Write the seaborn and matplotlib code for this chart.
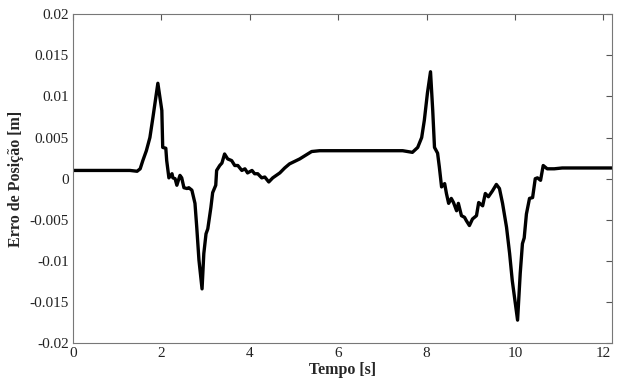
import matplotlib
matplotlib.use("Agg")
import matplotlib.pyplot as plt
import seaborn as sns
import pandas as pd

# Position error of the tracked trajectory over time
tempo = [0.00, 1.29, 1.45, 1.52, 1.58, 1.66, 1.74, 1.81, 1.92, 2.01, 2.03, 2.10, 2.12, 2.17,
         2.24, 2.26, 2.31, 2.35, 2.42, 2.46, 2.51, 2.58, 2.62, 2.69, 2.76, 2.80,
         2.85, 2.92, 2.96, 3.01, 3.05, 3.12, 3.16, 3.23, 3.25, 3.32, 3.37, 3.43,
         3.50, 3.59, 3.66, 3.73, 3.82, 3.89, 3.95, 4.05, 4.11, 4.18, 4.27, 4.34,
         4.43, 4.52, 4.68, 4.79, 4.90, 5.13, 5.40, 5.58, 7.46, 7.68, 7.80, 7.89,
         7.95, 8.02, 8.09, 8.14, 8.18, 8.25, 8.29, 8.34, 8.41, 8.45, 8.50, 8.56,
         8.61, 8.68, 8.72, 8.79, 8.86, 8.90, 8.97, 9.04, 9.13, 9.18, 9.27, 9.33,
         9.40, 9.49, 9.58, 9.65, 9.72, 9.81, 9.88, 9.94, 10.06, 10.12, 10.17,
         10.21, 10.26, 10.33, 10.40, 10.46, 10.51, 10.58, 10.64, 10.73, 10.89,
         11.07, 12.20]
erro = [0.0010, 0.0010, 0.0009, 0.0012, 0.0022, 0.0034, 0.0050, 0.0075, 0.0116, 0.0083, 0.0038,
        0.0037, 0.0022, 0.0001, 0.0006, 0.0001, 0.0000, -0.0008, 0.0004, 0.0001,
        -0.0011, -0.0012, -0.0011, -0.0014, -0.0030, -0.0059, -0.0099, -0.0134,
        -0.0091, -0.0067, -0.0061, -0.0035, -0.0017, -0.0008, 0.0010, 0.0016,
        0.0019, 0.0030, 0.0024, 0.0022, 0.0016, 0.0016, 0.0010, 0.0012, 0.0007,
        0.0010, 0.0006, 0.0006, 0.0001, 0.0002, -0.0004, 0.0001, 0.0007, 0.0013,
        0.0018, 0.0024, 0.0033, 0.0034, 0.0034, 0.0032, 0.0038, 0.0050, 0.0071,
        0.0104, 0.0130, 0.0083, 0.0038, 0.0031, 0.0014, -0.0010, -0.0006, -0.0018,
        -0.0030, -0.0024, -0.0029, -0.0039, -0.0030, -0.0045, -0.0047, -0.0051,
        -0.0057, -0.0049, -0.0045, -0.0029, -0.0033, -0.0018, -0.0022, -0.0015,
        -0.0007, -0.0012, -0.0030, -0.0059, -0.0091, -0.0124, -0.0172, -0.0115,
        -0.0079, -0.0072, -0.0043, -0.0024, -0.0023, 0.0000, 0.0001, -0.0002,
        0.0016, 0.0012, 0.0012, 0.0013, 0.0013]

x_ticks = [0, 2, 4, 6, 8, 10, 12]
y_ticks = [-0.02, -0.015, -0.01, -0.005, 0, 0.005, 0.01, 0.015, 0.02]
y_tick_labels = ["-0.02", "-0.015", "-0.01", "-0.005", "0", "0.005", "0.01", "0.015", "0.02"]

sns.set_theme(style="white")
plt.rcParams["font.family"] = ["Liberation Serif", "DejaVu Serif"]
plt.rcParams["xtick.direction"] = "in"
plt.rcParams["ytick.direction"] = "in"

df = pd.DataFrame({"Tempo": tempo, "Erro": erro})

fig = plt.figure(figsize=(6.24, 3.83), dpi=100)
ax = fig.add_axes([0.117, 0.104, 0.864, 0.859])
sns.lineplot(data=df, x="Tempo", y="Erro", ax=ax, color="black",
             linewidth=2.4, sort=False, estimator=None,
             solid_joinstyle="round", solid_capstyle="round")

ax.set_xlim(0, 12.2)
ax.set_ylim(-0.02, 0.02)
ax.set_xticks(x_ticks)
ax.set_xticklabels([str(v) for v in x_ticks])
ax.set_yticks(y_ticks)
ax.set_yticklabels(y_tick_labels)
ax.tick_params(axis="both", which="both", labelsize=11, length=4, width=0.8,
               color="#555555", top=True, right=True, pad=3, labelcolor="#222222")
for s in ax.spines.values():
    s.set_color("#777777")
    s.set_linewidth(0.8)

ax.set_xlabel("Tempo [s]", fontsize=11.5, fontweight="bold", labelpad=1)
ax.set_ylabel("Erro de Posição [m]", fontsize=11.5, fontweight="bold", labelpad=4)

fig.savefig("out.png", dpi=100)
